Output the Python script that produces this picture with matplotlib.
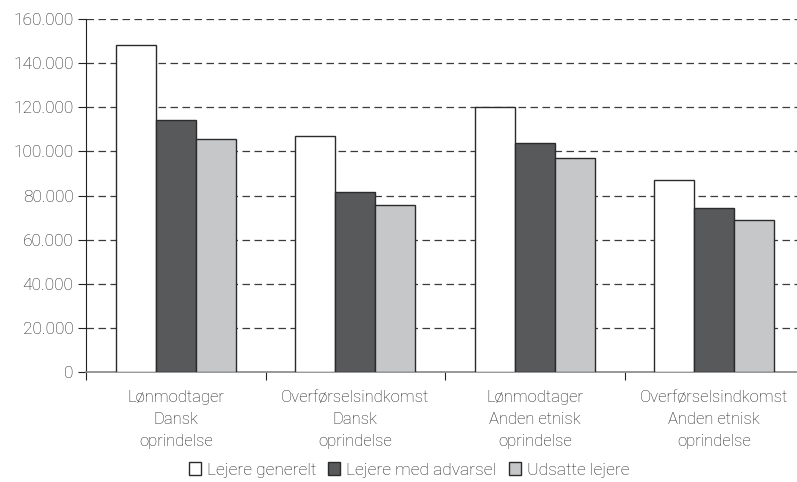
import numpy as np
import matplotlib
matplotlib.use("Agg")
import matplotlib.pyplot as plt
from matplotlib.ticker import FuncFormatter, FixedLocator
from matplotlib.patches import Patch

plt.rcParams['font.family'] = ['Roboto', 'DejaVu Sans']
plt.rcParams['font.weight'] = 'light'

categories = [
    "Lønmodtager\nDansk\noprindelse",
    "Overførselsindkomst\nDansk\noprindelse",
    "Lønmodtager\nAnden etnisk\noprindelse",
    "Overførselsindkomst\nAnden etnisk\noprindelse",
]
series_names = ["Lejere generelt", "Lejere med advarsel", "Udsatte lejere"]
lejere_generelt = [148000, 107000, 120000, 87000]
lejere_med_advarsel = [114000, 81500, 104000, 74500]
udsatte_lejere = [105500, 75500, 97000, 69000]
y_ticks = [0, 20000, 40000, 60000, 80000, 100000, 120000, 140000, 160000]

colors = ["#ffffff", "#58595b", "#c6c7c9"]
text_color = "#1e1e1e"

fig = plt.figure(figsize=(7.97, 4.82), dpi=100)
ax = fig.add_axes([86 / 797, 1 - 372 / 482, 718 / 797, 353 / 482])

x = np.arange(len(categories))
width = 0.223
for i, (vals, col) in enumerate(zip([lejere_generelt, lejere_med_advarsel, udsatte_lejere], colors)):
    ax.bar(x + (i - 1) * width, vals, width, color=col, edgecolor="#2b2b2b",
           linewidth=1.0, zorder=3)

ax.set_xlim(-0.5, len(categories) - 0.5)
ax.set_ylim(0, 160000)
ax.set_yticks(y_ticks)
ax.yaxis.set_major_formatter(FuncFormatter(lambda v, p: f"{int(v):,}".replace(",", ".")))
ax.yaxis.grid(True, linestyle=(0, (6, 3.6)), color="#3a3a3a", linewidth=0.9, zorder=0)

# category boundaries as major ticks, labels on minor ticks at the centres
ax.xaxis.set_major_locator(FixedLocator(np.arange(len(categories) + 1) - 0.5))
ax.xaxis.set_major_formatter(FuncFormatter(lambda v, p: ""))
ax.xaxis.set_minor_locator(FixedLocator(x))
ax.set_xticklabels(categories, minor=True, linespacing=1.6)
ax.tick_params(axis="x", which="major", direction="out", length=6, color="#222222")
ax.tick_params(axis="x", which="minor", length=0, pad=13, labelsize=12, labelcolor=text_color)
ax.tick_params(axis="y", direction="out", length=6, color="#222222", pad=3,
               labelsize=12.5, labelcolor=text_color)

for s in ["top", "right"]:
    ax.spines[s].set_visible(False)
ax.spines["left"].set_color("#222222")
ax.spines["bottom"].set_color("#888888")
ax.spines["bottom"].set_linewidth(1.2)

handles = [Patch(facecolor=c, edgecolor="#2b2b2b", linewidth=1.0) for c in colors]
fig.legend(handles, series_names, loc="center", bbox_to_anchor=(409 / 797, 1 - 470 / 482),
           ncol=3, frameon=False, handlelength=0.7, handleheight=0.7, handletextpad=0.35,
           columnspacing=0.7, fontsize=12.5, labelcolor=text_color)

fig.savefig("out.png", dpi=100)
